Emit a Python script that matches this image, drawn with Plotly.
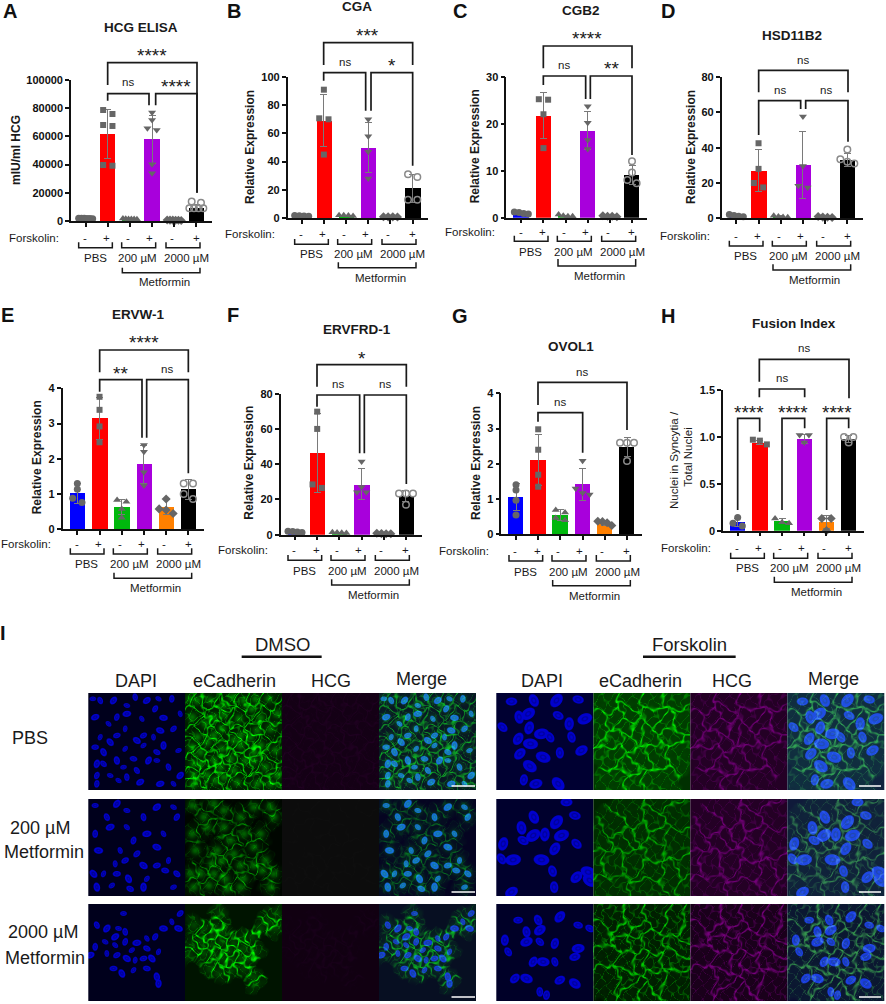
import numpy as np
import plotly.graph_objects as go

W, H = 886, 1004
GROUPS = ["PBS -", "PBS +", "200 -", "200 +", "2000 -", "2000 +"]
BAR_COLORS = ["#0000ff", "#ff0000", "#00b80d", "#a800dc", "#ff8000", "#000000"]
SYMBOLS = ["circle", "square", "triangle-up", "triangle-down", "diamond", "circle-open"]

# ---- values ----
hcg_means = [1800, 61500, 1500, 58000, 500, 9000]
hcg_sd = [300, 17500, 300, 17000, 300, 2400]
hcg_pts = [[2000, 2000, 1900, 1800, 1700, 1600], [78700, 75900, 67400, 68100, 39200, 39700],
           [1700, 1600, 1500, 1500, 1400, 1300], [77000, 71600, 64500, 65700, 40200, 33800],
           [700, 600, 600, 500, 500, 400], [13000, 13800, 9000, 9000, 9000, 9000]]
cga_means = [1.5, 69, 1.8, 50, 0.8, 21]
cga_sd = [0.3, 18.5, 0.3, 18, 0.2, 9.8]
cga_pts = [[1.5, 1.8, 1.2, 1.6], [91, 70.7, 70, 45], [2.0, 1.8, 1.5, 2.0], [70, 58, 47, 28],
           [0.8, 0.9, 0.7, 0.8], [29, 31, 13, 13]]
cgb2_means = [1.0, 21.7, 0.4, 18.6, 0.3, 9.1]
cgb2_sd = [0.15, 4.9, 0.15, 4.0, 0.1, 2.1]
cgb2_pts = [[1.2, 1.1, 0.9, 0.8], [25.1, 25.2, 22, 14.8], [0.7, 0.4, 0.3, 0.3], [23.7, 20.2, 16.5, 14.6],
            [0.4, 0.3, 0.3, 0.2], [12, 9.6, 7.3, 8]]
hsd_means = [1.5, 27, 1.0, 30, 0.7, 33]
hsd_sd = [0.5, 11.7, 0.4, 19, 0.2, 3.5]
hsd_pts = [[2.2, 1.6, 1.2, 0.9], [42.5, 28, 20, 17.5], [1.5, 1.1, 0.8, 0.6], [57.7, 29.6, 17.5, 18.5],
           [1.0, 0.7, 0.5, 0.6], [39, 33.5, 31, 32]]
ervw_means = [1.02, 3.15, 0.63, 1.84, 0.63, 1.13]
ervw_sd = [0.28, 0.6, 0.21, 0.55, 0.21, 0.27]
ervw_pts = [[1.3, 1.14, 0.76, 0.88], [3.76, 3.39, 2.92, 2.47], [0.83, 0.78, 0.58, 0.33], [2.39, 2.2, 1.62, 1.24],
            [0.86, 0.58, 0.45, 0.55], [1.3, 1.3, 0.86, 1.0]]
ervfrd_means = [1.7, 46.5, 1.2, 28.5, 0.6, 22]
ervfrd_sd = [0.3, 22.5, 0.2, 8.8, 0.15, 3]
ervfrd_pts = [[2.0, 1.8, 1.5, 1.2], [69.8, 60, 28.5, 26.5], [1.4, 1.2, 1.1, 1.0], [41.5, 27, 24, 24],
              [0.8, 0.6, 0.5, 0.5], [23.3, 23.3, 23.3, 17]]
ovol_means = [1.06, 2.11, 0.55, 1.41, 0.32, 2.47]
ovol_sd = [0.37, 0.72, 0.15, 0.45, 0.06, 0.27]
ovol_pts = [[1.41, 1.26, 0.97, 0.55], [2.98, 2.40, 1.69, 1.35], [0.69, 0.62, 0.46, 0.4], [2.09, 1.3, 1.13, 1.17],
            [0.25, 0.33, 0.36, 0.37], [2.6, 2.6, 2.6, 2.08]]
fusion_means = [0.09, 0.94, 0.10, 0.98, 0.09, 0.98]
fusion_sd = [0.045, 0.02, 0.025, 0.05, 0.07, 0.04]
fusion_pts = [[0.14, 0.08, 0.05], [0.96, 0.97, 0.92], [0.13, 0.09, 0.08], [1.02, 1.02, 0.94],
              [0.13, 0.13, 0.0], [1.0, 1.0, 0.94]]

tick_hcg = [0, 20000, 40000, 60000, 80000, 100000]
tick_100 = [0, 20, 40, 60, 80, 100]
tick_30 = [0, 10, 20, 30]
tick_80 = [0, 20, 40, 60, 80]
tick_4 = [0, 1, 2, 3, 4]
tick_fus = [0, 0.5, 1.0, 1.5]
tick_fus_text = ["0", "0.5", "1.0", "1.5"]

# ---- nuclei centres (in panel pixels 0..97) ----
def z(origin_x, origin_y, pts):
    return [((a - origin_x) / 3, (b - origin_y) / 3) for a, b in pts]

nuc_dmso_pbs = z(265, 219, [(278,235),(300,240),(340,240),(380,255),(405,230),(440,240),(475,235),(515,235),(285,290),(325,310),(350,290),(380,280),(425,295),(465,265),(490,292),(540,280),(520,325),(480,330),(460,350),(430,345),(410,360),(375,325),(350,345),(330,365),(300,350),(285,380),(310,395),(375,385),(400,415),(350,420),(430,375),(470,395),(490,375),(535,390),(310,430),(290,430),(370,440),(410,450),(445,420),(470,420),(505,440),(540,465),(330,465),(380,470),(420,485),(355,480),(290,490),(480,490),(520,490),(290,465)])
nuc_dmso_200 = z(265, 537, [(285,555),(320,590),(350,550),(380,570),(430,590),(470,560),(520,560),(285,640),(330,620),(380,620),(400,660),(440,640),(490,640),(530,590),(295,690),(360,690),(410,700),(470,680),(345,730),(375,720),(430,735),(505,720),(470,735),(280,760),(310,760),(350,760),(385,775),(440,775),(495,750),(290,800),(335,795),(390,805),(430,800),(520,800),(530,760)])
nuc_dmso_2000 = z(265, 853, [(370,880),(290,915),(320,925),(355,925),(375,935),(345,950),(315,965),(285,980),(270,1005),(345,975),(375,965),(410,968),(440,955),(465,950),(490,925),(515,905),(540,880),(535,925),(320,1000),(350,1005),(380,1015),(405,1020),(430,1015),(455,1015),(475,995),(340,1045),(365,1060),(400,1050),(440,1045),(470,1070),(395,990),(440,985),(475,1090)])
nuc_fsk_pbs = z(160, 219, [(205,243),(272,240),(340,240),(405,237),(228,290),(255,280),(345,285),(378,310),(425,295),(178,320),(258,322),(295,340),(320,350),(225,355),(262,370),(385,350),(230,400),(300,410),(350,397),(415,390),(260,437),(242,478),(278,490),(345,490)])
nuc_fsk_200 = z(160, 537, [(370,545),(272,590),(340,605),(395,585),(235,622),(270,645),(240,660),(305,642),(355,645),(400,670),(180,670),(210,718),(175,715),(335,685),(295,718),(328,752),(400,770),(435,755),(333,800),(205,815),(440,780)])
nuc_fsk_2000 = z(160, 853, [(225,900),(285,900),(350,890),(405,915),(250,935),(290,930),(440,925),(185,960),(250,965),(290,965),(335,970),(405,985),(195,995),(270,1025),(300,1025),(335,1025),(215,1075),(250,1075),(290,1115),(350,1080),(395,1090),(310,1125),(395,1010)])

# ---- layout: all in 3x zoom pixels relative to a quadrant offset ----
PANELS = [
    dict(ox=0, oy=0, left=213, right=637, y0=663, top=240, c0=257, c5=589, ymax=100000, ticks=tick_hcg, means=hcg_means, sd=hcg_sd, pts=hcg_pts,
         title="HCG ELISA", t=(424, 82), letter="A", l=(30, 33), yl="mIU/ml HCG", ylp=(48, 450),
         d=(50, 64, 80, 112, 140, 155, 184),
         br=[(323, 591, 188, 255, 578, "****", 456, 155), (323, 447, 281, 302, 316, "ns", 385, 247), (467, 591, 281, 316, 578, "****", 527, 247)]),
    dict(ox=0, oy=0, left=863, right=1285, y0=654, top=231, c0=905, c5=1238, ymax=100, ticks=tick_100, means=cga_means, sd=cga_sd, pts=cga_pts,
         title="CGA", t=(1071, 20), letter="B", l=(703, 33), yl="Relative Expression", ylp=(748, 440),
         d=(48, 63, 79, 108, 133, 149, 181),
         br=[(971, 1238, 128, 195, 195, "***", 1103, 95), (971, 1097, 218, 242, 332, "ns", 1034, 185), (1113, 1238, 218, 332, 497, "*", 1175, 185)]),
    dict(ox=443, oy=0, left=190, right=613, y0=653, top=230, c0=235, c5=567, ymax=30, ticks=tick_30, means=cgb2_means, sd=cgb2_sd, pts=cgb2_pts,
         title="CGB2", t=(413, 33), letter="C", l=(50, 33), yl="Relative Expression", ylp=(95, 440),
         d=(42, 54, 71, 102, 124, 145, 175),
         br=[(301, 567, 138, 205, 205, "****", 433, 105), (301, 428, 228, 255, 297, "ns", 363, 195), (442, 567, 228, 297, 465, "**", 505, 195)]),
    dict(ox=443, oy=0, left=836, right=1260, y0=655, top=231, c0=880, c5=1213, ymax=80, ticks=tick_80, means=hsd_means, sd=hsd_sd, pts=hsd_pts,
         title="HSD11B2", t=(1048, 107), letter="D", l=(675, 33), yl="Relative Expression", ylp=(742, 440),
         d=(53, 67, 83, 113, 138, 155, 186),
         br=[(947, 1215, 211, 277, 277, "ns", 1080, 180), (947, 1073, 302, 405, 327, "ns", 1010, 270), (1088, 1215, 302, 327, 425, "ns", 1150, 270)]),
    dict(ox=0, oy=310, left=188, right=612, y0=658, top=235, c0=232, c5=565, ymax=4, ticks=tick_4, means=ervw_means, sd=ervw_sd, pts=ervw_pts,
         title="ERVW-1", t=(415, 15), letter="E", l=(22, 15), yl="Relative Expression", ylp=(110, 443),
         d=(44, 57, 74, 105, 130, 147, 176),
         br=[(299, 565, 120, 187, 187, "****", 431, 87), (299, 426, 209, 245, 383, "**", 361, 177), (440, 565, 209, 383, 490, "ns", 502, 177)]),
    dict(ox=0, oy=310, left=842, right=1265, y0=674, top=251, c0=885, c5=1218, ymax=80, ticks=tick_80, means=ervfrd_means, sd=ervfrd_sd, pts=ervfrd_pts,
         title="ERVFRD-1", t=(1070, 58), letter="F", l=(700, 15), yl="Relative Expression", ylp=(747, 458),
         d=(47, 61, 77, 109, 134, 151, 180),
         br=[(951, 1219, 164, 230, 230, "*", 1085, 132), (951, 1079, 255, 290, 430, "ns", 1013, 223), (1093, 1219, 255, 430, 522, "ns", 1155, 223)]),
    dict(ox=443, oy=310, left=175, right=598, y0=673, top=250, c0=219, c5=552, ymax=4, ticks=tick_4, means=ovol_means, sd=ovol_sd, pts=ovol_pts,
         title="OVOL1", t=(385, 110), letter="G", l=(52, 18), yl="Relative Expression", ylp=(97, 458),
         d=(50, 62, 80, 112, 137, 154, 184),
         br=[(285, 552, 217, 285, 360, "ns", 418, 187), (285, 419, 308, 335, 428, "ns", 352, 275)]),
    dict(ox=443, oy=310, left=840, right=1264, y0=662, top=240, c0=884, c5=1217, ymax=1.5, ticks=tick_fus, ticktext=tick_fus_text, means=fusion_means, sd=fusion_sd, pts=fusion_pts,
         title="Fusion Index", t=(1052, 42), letter="H", l=(675, 18), yl=None, ylp=None,
         d=(51, 66, 83, 113, 138, 155, 185),
         br=[(949, 1218, 148, 215, 265, "ns", 1083, 115), (949, 1085, 237, 262, 262, "ns", 1017, 205),
             (884, 950, 325, 600, 365, "****", 917, 295), (1017, 1085, 325, 600, 355, "****", 1050, 295), (1151, 1217, 325, 600, 355, "****", 1183, 295)]),
]

FONT = "Liberation Sans, Arial, sans-serif"
fx = lambda x: x / W
fy = lambda y: 1 - y / H

fig = go.Figure()
shapes, annots = [], []

def text(x, y, s, size=11.5, bold=False, rot=0, color="#1a1a1a", anchor="center"):
    annots.append(dict(x=fx(x), y=fy(y), xref="paper", yref="paper", text=f"<b>{s}</b>" if bold else s, showarrow=False,
                       xanchor=anchor, yanchor="middle", textangle=rot, font=dict(family=FONT, size=size, color=color)))

def path(points, color="#1a1a1a", width=1.7):
    d = "M " + " L ".join(f"{fx(a):.5f},{fy(b):.5f}" for a, b in points)
    shapes.append(dict(type="path", path=d, xref="paper", yref="paper", line=dict(color=color, width=width)))

def swarm(values, px_per_unit, thresh=5.0):
    order = np.argsort(values)[::-1]
    off = np.zeros(len(values))
    clusters = [[order[0]]]
    for i in order[1:]:
        if abs(values[clusters[-1][-1]] - values[i]) * px_per_unit < thresh:
            clusters[-1].append(i)
        else:
            clusters.append([i])
    for c in clusters:
        n = len(c)
        if n > 1:
            sp = min(9.3, 14.0 / (n - 1))
            for k, i in enumerate(c):
                off[i] = (k - (n - 1) / 2) * sp
    return off

for idx, p in enumerate(PANELS):
    n = idx + 1
    X = lambda v, p=p: p["ox"] + v / 3
    Y = lambda v, p=p: p["oy"] + v / 3
    left, right, y0, top = X(p["left"]), X(p["right"]), Y(p["y0"]), Y(p["top"])
    c0, c5 = X(p["c0"]), X(p["c5"])
    step = (c5 - c0) / 5
    ppu = (y0 - top) / p["ymax"]
    xn, yn = f"x{n}", f"y{n}"
    fig.add_trace(go.Bar(x=list(range(6)), y=p["means"], width=0.69, marker=dict(color=BAR_COLORS, line=dict(width=0)),
                         error_y=dict(type="data", array=p["sd"], color="#7a7a7a", thickness=1, width=3.5),
                         xaxis=xn, yaxis=yn, showlegend=False))
    for g, vals in enumerate(p["pts"]):
        off = swarm(vals, ppu)
        sym = SYMBOLS[g]
        mk = dict(symbol=sym, size=6 if sym == "square" else 7, color="#666666", line=dict(width=0))
        if sym == "circle-open":
            mk = dict(symbol=sym, size=6.5, color="#8a8a8a", line=dict(width=1.5, color="#8a8a8a"))
        fig.add_trace(go.Scatter(x=[g + o / step for o in off], y=vals, mode="markers", marker=mk, cliponaxis=False,
                                 xaxis=xn, yaxis=yn, showlegend=False))
    suf = "" if n == 1 else str(n)
    fig.layout["xaxis" + suf] = dict(domain=[fx(left), fx(right)], range=[(left - c0) / step, (right - c0) / step], anchor=yn,
                                     tickvals=list(range(6)), showticklabels=False, ticks="outside", ticklen=4, tickwidth=1.5,
                                     tickcolor="#111", showline=True, linecolor="#111", linewidth=1.6, showgrid=False, zeroline=False, fixedrange=True)
    fig.layout["yaxis" + suf] = dict(domain=[fy(y0), fy(top)], range=[0, p["ymax"]], anchor=xn, tickvals=p["ticks"],
                                     ticktext=p.get("ticktext", [str(t) for t in p["ticks"]]), ticks="outside", ticklen=4, tickwidth=1.5,
                                     tickcolor="#111", showline=True, linecolor="#111", linewidth=1.6, showgrid=False, zeroline=False, fixedrange=True,
                                     tickfont=dict(family=FONT, size=11, color="#111", weight="bold"))
    # title / letter / y label
    text(X(p["t"][0]), Y(p["t"][1]), p["title"], 13.5, True)
    text(X(p["l"][0]), Y(p["l"][1]), p["letter"], 20, True, color="#111")
    if p["yl"]:
        text(X(p["ylp"][0]), Y(p["ylp"][1]), p["yl"], 12, True, -90)
    else:
        text(X(693), Y(450), "Nuclei in Syncytia /", 11.5, False, -90)
        text(X(736), Y(442), "Total Nuclei", 11.5, False, -90)
    # significance brackets
    for x1, x2, ty, lb, rb, lab, lx, ly in p["br"]:
        path([(X(x1), Y(lb)), (X(x1), Y(ty)), (X(x2), Y(ty)), (X(x2), Y(rb))])
        if lab == "ns":
            text(X(lx), Y(ly), lab, 11.5)
        else:
            text(X(lx), Y(ly) + 4, lab, 19)
    # Forskolin row
    d = p["d"]
    z0 = p["c0"]
    zy0 = p["y0"]
    text(X(z0 - 155), Y(zy0 + d[0]), "Forskolin:", 11.5)
    zc = [z0 + (p["c5"] - z0) * k / 5 for k in range(6)]
    for k, (sgn, dx) in enumerate(zip(["-", "+", "-", "+", "-", "+"], [-2, -3, -6, -8, -7, -1])):
        text(X(zc[k] + dx), Y(zy0 + d[0]), sgn, 11.5)
    for a, b in [(-21, 80), (108, 210), (241, 343)]:
        path([(X(z0 + a), Y(zy0 + d[1])), (X(z0 + a), Y(zy0 + d[2])), (X(z0 + b), Y(zy0 + d[2])), (X(z0 + b), Y(zy0 + d[1]))], width=1.5)
    for lab, a in [("PBS", 28), ("200 µM", 156), ("2000 µM", 303)]:
        text(X(z0 + a), Y(zy0 + d[3]), lab, 11.5)
    path([(X(z0 + 110), Y(zy0 + d[4])), (X(z0 + 110), Y(zy0 + d[5])), (X(z0 + 343), Y(zy0 + d[5])), (X(z0 + 343), Y(zy0 + d[4]))], width=1.5)
    text(X(z0 + 235), Y(zy0 + d[6]), "Metformin", 11.5)

# ---- microscopy panels ----
IMG_COLS_L = [88.3, 185, 282, 379]
IMG_COLS_R = [496.3, 593.3, 690.3, 787.3]
SIZE = 97

def render(nuclei, radius, w, bg_b, bg_g, bg_m, g_amp, m_amp, neutral=False, cut=30, nuc_g=60, blobs=0, fil=0.35, fs=1.0):
    gy, gx = np.mgrid[0:SIZE, 0:SIZE].astype(float)
    c = np.array(nuclei)
    dx = gx[..., None] - c[:, 0]
    dy = gy[..., None] - c[:, 1]
    dist = np.sqrt(dx ** 2 + dy ** 2)
    # oval nuclei with a varied orientation
    th = np.arange(len(c)) * 1.13
    u = (dx * np.cos(th) + dy * np.sin(th)) / 1.22
    v = (-dx * np.sin(th) + dy * np.cos(th)) / 0.86
    ell = np.sqrt(u ** 2 + v ** 2)
    var = 1 + 0.14 * (np.arange(len(c)) % 3 - 1)
    per = np.clip((radius * var - ell) / 1.1 + 0.5, 0, 1)
    mask = per.max(axis=-1)
    ds = np.sort(dist, axis=-1)
    ring = np.clip(1 - np.abs(np.min(ell, axis=-1) - radius * 0.4) / 1.3, 0, 1)
    # membrane network: wavy cell borders between neighbouring nuclei
    wx = gx + 2.2 * np.sin(gy / 4.3) + 1.2 * np.sin((gx + gy) / 2.1)
    wy = gy + 2.2 * np.sin(gx / 3.7) + 1.2 * np.sin((gx - gy) / 2.4)
    wd = np.sqrt((wx[..., None] - c[:, 0]) ** 2 + (wy[..., None] - c[:, 1]) ** 2)
    o = np.argsort(wd, axis=-1)
    i1, i2, i3 = o[..., 0], o[..., 1], o[..., 2]
    d1 = np.take_along_axis(wd, i1[..., None], -1)[..., 0]
    d2 = np.take_along_axis(wd, i2[..., None], -1)[..., 0]
    d3 = np.take_along_axis(wd, i3[..., None], -1)[..., 0]
    b12 = (d2 ** 2 - d1 ** 2) / (2 * np.linalg.norm(c[i1] - c[i2], axis=-1) + 1e-6)
    b13 = (d3 ** 2 - d1 ** 2) / (2 * np.linalg.norm(c[i1] - c[i3], axis=-1) + 1e-6)
    fade = np.clip((cut - d1) / 4, 0, 1)
    mod = 0.72 + 0.28 * np.sin(gx / 1.7 + gy / 2.3) * np.cos(gy / 1.9 - gx / 3.1)
    ridge = np.exp(-((np.sin(wx / (2.1 * fs) + 0.7) + np.sin(wy / (2.7 * fs) + wx / 9)) ** 2) / 0.06)
    edge = np.clip(np.exp(-(b12 / w) ** 2) + 0.3 * np.exp(-(b13 / w) ** 2) + fil * ridge, 0, 1) * fade * mod
    diffuse = np.exp(-(ds[..., 0] / (radius * 1.3)) ** 2) * fade
    blue = bg_b + mask * (205 - bg_b) * (1 - 0.3 * ring)
    green = bg_g + edge * g_amp + diffuse * blobs + fade * (0.5 + 0.5 * mod) * g_amp * 0.10
    mag = bg_m + edge * m_amp
    dapi = np.stack([0 * blue, 0 * blue, blue], -1)
    ecad = np.stack([0 * green, green, 0 * green], -1)
    hcg = np.stack([mag, mag, mag], -1) if neutral else np.stack([mag, 0 * mag, mag * 1.05], -1)
    merge = np.stack([mag * 0.45 + mask * 15, green * 0.75 * (1 - 0.5 * mask) + mask * nuc_g, blue * 1.05 + mag * 0.3], -1)
    return [np.clip(a, 0, 255).astype(np.uint8) for a in (dapi, ecad, hcg, merge)]

ROW_SETS = [
    (IMG_COLS_L, 693, nuc_dmso_pbs, dict(radius=3.1, w=0.9, bg_b=28, bg_g=15, bg_m=20, g_amp=190, m_amp=12, cut=20, nuc_g=85, blobs=80, fil=0.45, fs=0.8)),
    (IMG_COLS_L, 799, nuc_dmso_200, dict(radius=3.3, w=0.8, bg_b=28, bg_g=6, bg_m=12, g_amp=130, m_amp=3, neutral=True, cut=13, nuc_g=85, blobs=80, fil=0.3, fs=0.9)),
    (IMG_COLS_L, 904, nuc_dmso_2000, dict(radius=3.2, w=1.0, bg_b=28, bg_g=20, bg_m=17, g_amp=200, m_amp=8, cut=12, nuc_g=40, blobs=30, fil=0.3, fs=0.8)),
    (IMG_COLS_R, 693, nuc_fsk_pbs, dict(radius=5.4, w=1.2, bg_b=50, bg_g=48, bg_m=36, g_amp=165, m_amp=80, cut=28, nuc_g=55, fil=0.4)),
    (IMG_COLS_R, 799, nuc_fsk_200, dict(radius=5.6, w=1.1, bg_b=45, bg_g=35, bg_m=36, g_amp=135, m_amp=80, cut=28, nuc_g=55, fil=0.4)),
    (IMG_COLS_R, 904, nuc_fsk_2000, dict(radius=4.6, w=1.2, bg_b=40, bg_g=18, bg_m=26, g_amp=170, m_amp=95, cut=28, nuc_g=50, fil=0.45, fs=0.85)),
]
for cols, ry, nuc, kw in ROW_SETS:
    imgs = render(nuc, **kw)
    for im, cx in zip(imgs, cols):
        fig.add_trace(go.Image(z=im.tolist(), x0=cx + 0.5, y0=ry + 0.5, dx=1, dy=1, xaxis="x9", yaxis="y9", hoverinfo="skip"))

fig.layout["xaxis9"] = dict(domain=[fx(88), fx(885)], range=[88, 885], anchor="y9", visible=False, fixedrange=True)
fig.layout["yaxis9"] = dict(domain=[fy(1001), fy(693)], range=[1001, 693], anchor="x9", visible=False, fixedrange=True)

# scale bars
for yy in [786, 892, 997]:
    path([(451.5, yy), (475, yy)], color="#ffffff", width=1.5)
    path([(859, yy), (881, yy)], color="#ffffff", width=1.5)

# image headers
ZY = 620
text(850 / 3, ZY + 72 / 3, "DMSO", 18.5)
path([(725 / 3, ZY + 110 / 3), (965 / 3, ZY + 110 / 3)], color="#111", width=2.5)
text(443 + 740 / 3, ZY + 72 / 3, "Forskolin", 18.5)
path([(443 + 600 / 3, ZY + 110 / 3), (443 + 878 / 3, ZY + 110 / 3)], color="#111", width=2.5)
for s, zx, zyy in [("DAPI", 407, 182), ("eCadherin", 703, 182), ("HCG", 992, 182), ("Merge", 1265, 177)]:
    text(zx / 3, ZY + zyy / 3, s, 18)
for s, zx, zyy in [("DAPI", 296, 182), ("eCadherin", 592, 182), ("HCG", 868, 182), ("Merge", 1170, 177)]:
    text(443 + zx / 3, ZY + zyy / 3, s, 18)
for s, zx, zyy in [("PBS", 90, 353), ("200 µM", 120, 623), ("Metformin", 132, 697), ("2000 µM", 130, 935), ("Metformin", 135, 1013)]:
    text(zx / 3, ZY + zyy / 3, s, 18)
text(10 / 3, ZY + 40 / 3, "I", 20, True, color="#111")

fig.update_layout(width=W, height=H, margin=dict(l=0, r=0, t=0, b=0, pad=0, autoexpand=False), paper_bgcolor="white", plot_bgcolor="white",
                  showlegend=False, bargap=0, shapes=shapes, annotations=annots, font=dict(family=FONT))
fig.write_html("out.html", config=dict(displayModeBar=False, responsive=False),
               post_script="document.body.style.margin='0';")
